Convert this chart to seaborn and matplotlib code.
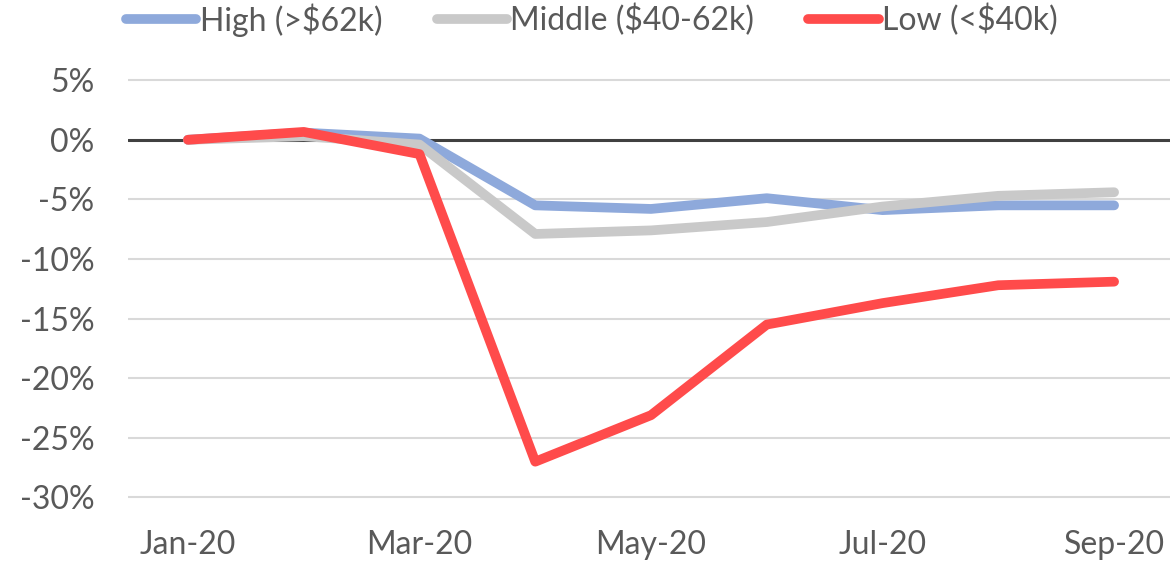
import numpy as np
import pandas as pd
import matplotlib
matplotlib.use("Agg")
import matplotlib.pyplot as plt
import seaborn as sns

# data (percent change vs Jan-20)
months = ["Jan-20", "Feb-20", "Mar-20", "Apr-20", "May-20", "Jun-20", "Jul-20", "Aug-20", "Sep-20"]
high = [0.0, 0.6, 0.1, -5.5, -5.8, -4.9, -5.9, -5.5, -5.5]
middle = [0.0, 0.3, -0.4, -7.9, -7.6, -6.9, -5.6, -4.7, -4.4]
low = [0.0, 0.66, -1.2, -27.0, -23.1, -15.5, -13.7, -12.2, -11.9]
series_names = ["High (>$62k)", "Middle ($40-62k)", "Low (<$40k)"]
tick_months = ["Jan-20", "Mar-20", "May-20", "Jul-20", "Sep-20"]

df = pd.DataFrame({"month": months, series_names[0]: high,
                   series_names[1]: middle, series_names[2]: low})
df["idx"] = range(len(months))
long = df.melt(id_vars=["month", "idx"], var_name="group", value_name="pct")

sns.set_theme(style="white")
plt.rcParams["font.family"] = ["Lato", "DejaVu Sans"]
text_col = "#595959"

fig = plt.figure(figsize=(11.72, 5.72), dpi=100)
ax = fig.add_axes([0.109, 0.122, 0.889, 0.742])

palette = {series_names[0]: "#8EA9DB", series_names[1]: "#C9C9C9", series_names[2]: "#FF4B4B"}

# gridlines
for v in range(5, -31, -5):
    if v == 0:
        continue
    ax.axhline(v, color="#D9D9D9", lw=1.5, zorder=0)
ax.axhline(0, color="#404040", lw=2.2, zorder=1)

sns.lineplot(data=long, x="idx", y="pct", hue="group", palette=palette,
             hue_order=series_names, linewidth=7, ax=ax, legend=False,
             solid_capstyle="round", solid_joinstyle="round", zorder=3)

ax.set_xlim(-0.52, 8.48)
ax.set_ylim(-30.4, 5.2)
ax.set_yticks(range(5, -31, -5))
ax.set_yticklabels([f"{v}%" for v in range(5, -31, -5)])
ax.set_xticks([months.index(m) for m in tick_months])
ax.set_xticklabels(tick_months)
ax.tick_params(axis="both", labelsize=23, colors=text_col, length=0)
ax.tick_params(axis="x", pad=20)
ax.tick_params(axis="y", pad=24)
ax.set_xlabel("")
ax.set_ylabel("")
for s in ax.spines.values():
    s.set_visible(False)

handles = [plt.Line2D([], [], color=palette[n], lw=7, solid_capstyle="round") for n in series_names]
leg = fig.legend(handles, series_names, loc="upper center", bbox_to_anchor=(0.505, 1.045),
                 ncol=3, frameon=False, fontsize=23, handlelength=2.2,
                 handletextpad=0.1, columnspacing=1.7)
for t in leg.get_texts():
    t.set_color(text_col)

fig.savefig("out.png", dpi=100)
